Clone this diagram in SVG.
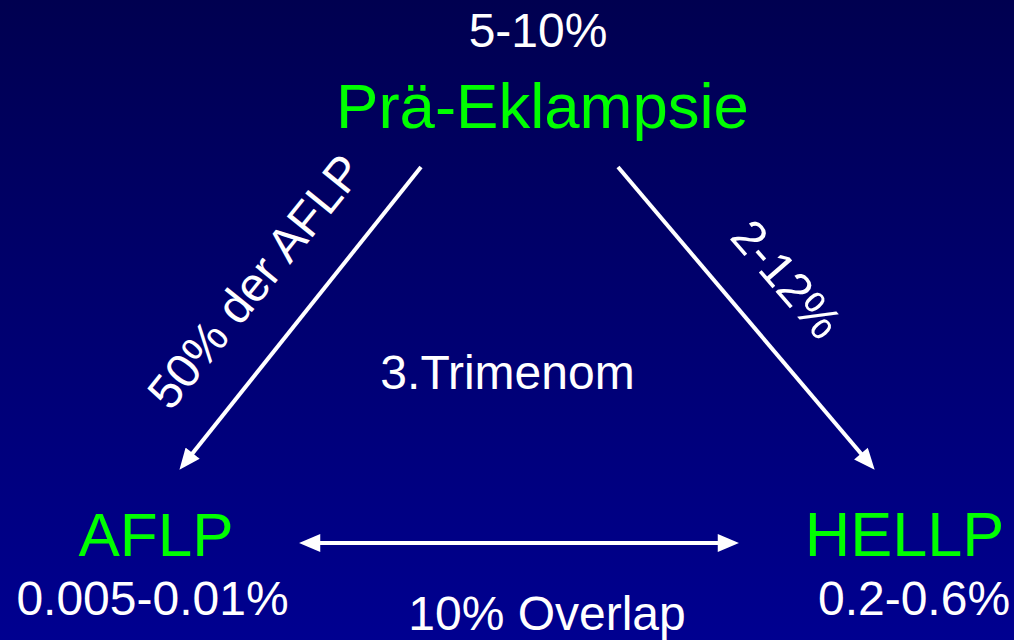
<svg xmlns="http://www.w3.org/2000/svg" width="1014" height="640" viewBox="0 0 1014 640">
  <defs>
    <linearGradient id="bg" x1="0" y1="0" x2="0" y2="1">
      <stop offset="0" stop-color="#000050"/>
      <stop offset="1" stop-color="#000090"/>
    </linearGradient>
    <marker id="ah" markerUnits="userSpaceOnUse" markerWidth="22" markerHeight="18" viewBox="0 0 20 17" refX="4" refY="8.5" orient="auto-start-reverse">
      <path d="M0,0 L20,8.5 L0,17 z" fill="#ffffff"/>
    </marker>
    <style>
      .w { fill: #ffffff; font-family: "Liberation Sans", Arial, sans-serif; font-size: 48px; text-anchor: middle; }
      .g { fill: #00ff00; font-family: "Liberation Sans", Arial, sans-serif; text-anchor: middle; }
      .c { stroke: #ffffff; stroke-width: 4; fill: none; }
    </style>
  </defs>
  <rect x="0" y="0" width="1014" height="640" fill="url(#bg)"/>

  <g id="connectors">
    <line class="c" x1="421" y1="167" x2="190" y2="456.5" marker-end="url(#ah)"/>
    <line class="c" x1="618" y1="167" x2="863.7" y2="456.8" marker-end="url(#ah)"/>
    <line class="c" x1="316" y1="543" x2="722" y2="543" marker-start="url(#ah)" marker-end="url(#ah)"/>
    <text class="w" transform="translate(268,292) rotate(-51)">50% der AFLP</text>
    <text class="w" transform="translate(774,290) rotate(49)">2-12%</text>
    <text class="w" x="547" y="630">10% Overlap</text>
  </g>

  <g id="node-praeeklampsie">
    <text class="w" x="538" y="47" font-size="47">5-10%</text>
    <text class="g" x="542.5" y="128" font-size="63.5">Prä-Eklampsie</text>
  </g>

  <g id="node-trimenom">
    <text class="w" x="507.5" y="389">3.Trimenom</text>
  </g>

  <g id="node-aflp">
    <text class="g" x="156" y="556" font-size="62">AFLP</text>
    <text class="w" x="152.5" y="615">0.005-0.01%</text>
  </g>

  <g id="node-hellp">
    <text class="g" x="904.5" y="556" font-size="63">HELLP</text>
    <text class="w" x="914" y="615">0.2-0.6%</text>
  </g>
</svg>
